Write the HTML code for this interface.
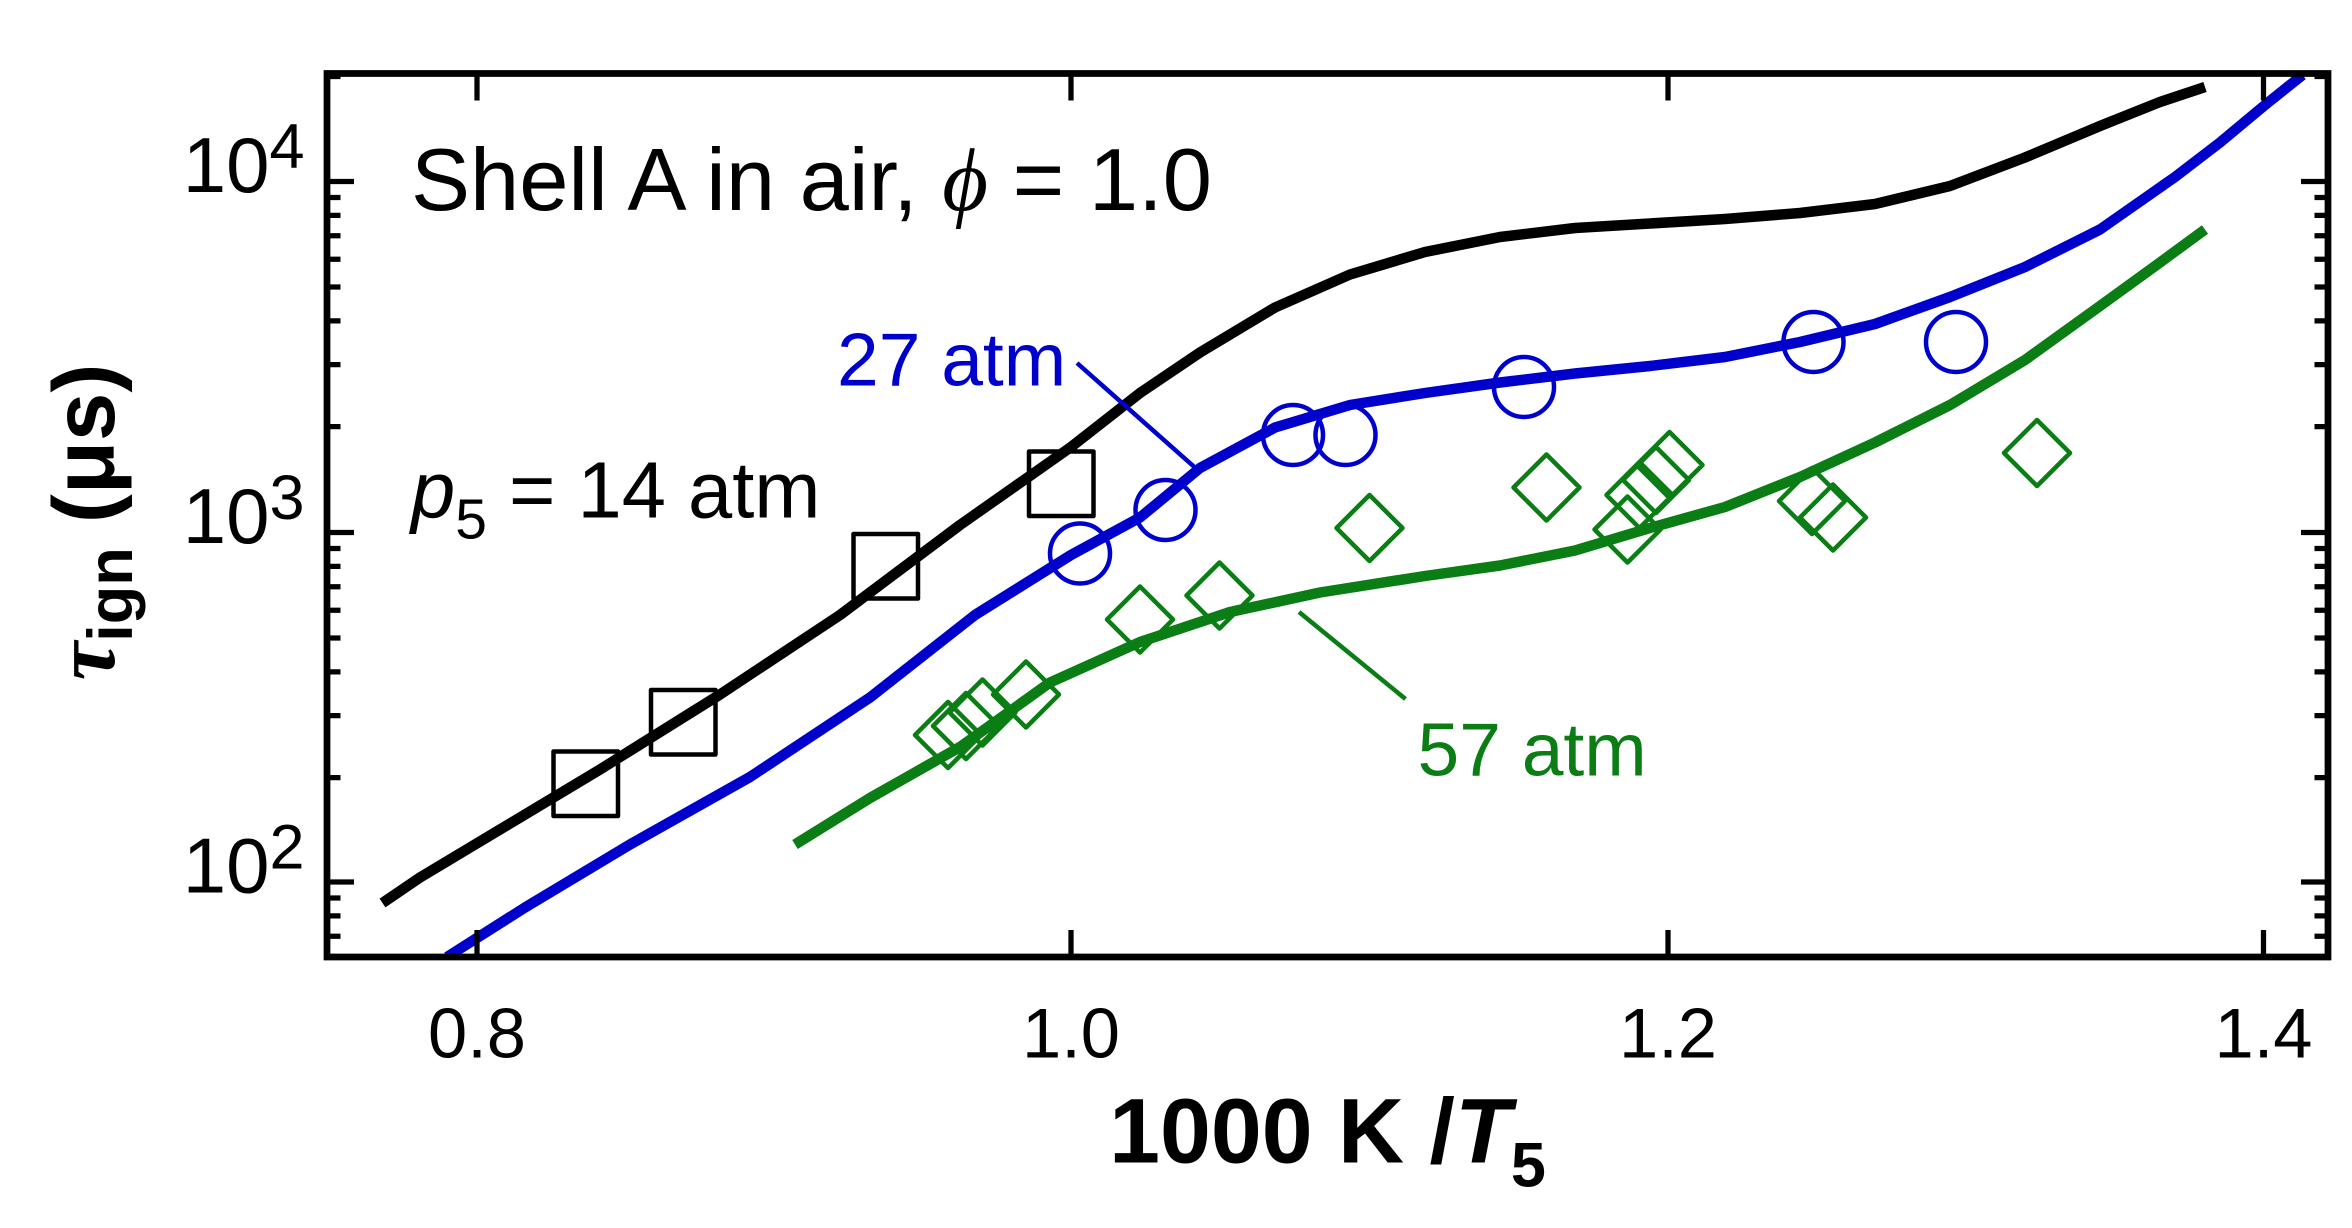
<!DOCTYPE html>
<html><head><style>html,body{margin:0;padding:0;background:#fff}svg{display:block}</style></head>
<body>
<svg width="2352" height="1228" viewBox="0 0 1568 818.667" xmlns="http://www.w3.org/2000/svg" font-family="Liberation Sans, Arial, sans-serif">
<rect width="1568" height="819" fill="#fff"/>
<g fill="none" stroke-linejoin="round" stroke-linecap="butt">
<polyline stroke="#000" stroke-width="7" points="255,602 280,585 330,555 400,513 480,463 560,410 640,350 714,298 760,262 800,235 850,205 900,183 950,168 1000,158 1050,152 1100,149 1150,146 1200,142 1250,136 1300,124 1350,105 1400,84 1440,68 1470,58"/>
<polyline stroke="#0000cc" stroke-width="7" points="298,638 350,605 420,563 500,518 580,465 650,410 714,370 760,345 800,312 850,285 900,270 950,262 1000,255 1050,249 1100,244 1150,238 1200,228 1250,216 1300,198 1350,178 1400,153 1450,118 1480,95 1510,70 1535,50"/>
<polyline stroke="#0a7d14" stroke-width="7" points="530,563 580,532 640,498 700,455 760,428 820,408 880,395 950,384 1000,377 1050,367 1100,352 1150,338 1200,318 1250,295 1300,270 1350,240 1400,204 1440,175 1470,153"/>
<g stroke="#000" stroke-width="3">
<rect x="369" y="501" width="43" height="43"/><rect x="434" y="460" width="43" height="43"/><rect x="569" y="356" width="43" height="43"/><rect x="686" y="301" width="43" height="43"/>
</g>
<g stroke="#0000cc" stroke-width="3">
<circle cx="720" cy="369" r="20"/><circle cx="777" cy="340" r="20"/><circle cx="862" cy="290" r="20"/><circle cx="897" cy="290" r="20"/><circle cx="1016" cy="258" r="20"/><circle cx="1209" cy="228" r="20"/><circle cx="1304" cy="228" r="20"/>
<line x1="718" y1="242" x2="797" y2="312"/>
</g>
<g stroke="#0a7d14" stroke-width="3">
<line x1="866" y1="408" x2="937" y2="466"/>
<path d="M632,468 l22,22 l-22,22 l-22,-22z M644,462 l22,22 l-22,22 l-22,-22z M655,453 l22,22 l-22,22 l-22,-22z M684,441 l22,22 l-22,22 l-22,-22z M760,391 l22,22 l-22,22 l-22,-22z M813,375 l22,22 l-22,22 l-22,-22z M913,330 l22,22 l-22,22 l-22,-22z M1031,303 l22,22 l-22,22 l-22,-22z M1085,331 l22,22 l-22,22 l-22,-22z M1093,308 l22,22 l-22,22 l-22,-22z M1104,298 l22,22 l-22,22 l-22,-22z M1113,288 l22,22 l-22,22 l-22,-22z M1208,312 l22,22 l-22,22 l-22,-22z M1222,323 l22,22 l-22,22 l-22,-22z M1358,280 l22,22 l-22,22 l-22,-22z"/>
</g>
</g>
<rect x="0" y="0" width="218" height="819" fill="#fff"/>
<rect x="218" y="638" width="1350" height="181" fill="#fff"/>
<rect x="218" y="0" width="1350" height="48" fill="#fff"/>
<rect x="1552" y="0" width="16" height="819" fill="#fff"/>
<rect x="218" y="49" width="1334" height="589" fill="none" stroke="#000" stroke-width="4.5"/>
<g stroke="#000" stroke-width="3.5">
<path d="M318,49v18M714,49v18M1112,49v18M1509,49v18M318,638v-18M714,638v-18M1112,638v-18M1509,638v-18"/>
<path d="M218,121h18M218,355h18M218,588h18M1552,121h-18M1552,355h-18M1552,588h-18"/>
<path d="M218,51h9M218,131.7h9M218,143.6h9M218,157.2h9M218,172.8h9M218,191.3h9M218,213.9h9M218,243.1h9M218,284.4h9M218,365.7h9M218,377.6h9M218,391.2h9M218,406.8h9M218,425.3h9M218,447.9h9M218,477.1h9M218,518.4h9M218,598.7h9M218,610.6h9M218,624.2h9
M1552,51h-9M1552,131.7h-9M1552,143.6h-9M1552,157.2h-9M1552,172.8h-9M1552,191.3h-9M1552,213.9h-9M1552,243.1h-9M1552,284.4h-9M1552,365.7h-9M1552,377.6h-9M1552,391.2h-9M1552,406.8h-9M1552,425.3h-9M1552,447.9h-9M1552,477.1h-9M1552,518.4h-9M1552,598.7h-9M1552,610.6h-9M1552,624.2h-9"/>
</g>
<g font-size="52" fill="#000" text-anchor="end">
<text x="203" y="128">10<tspan font-size="42" dy="-16">4</tspan></text>
<text x="203" y="362">10<tspan font-size="42" dy="-16">3</tspan></text>
<text x="203" y="595">10<tspan font-size="42" dy="-16">2</tspan></text>
</g>
<g font-size="47" fill="#000" text-anchor="middle">
<text x="318" y="705">0.8</text><text x="714" y="705">1.0</text><text x="1112" y="705">1.2</text><text x="1509" y="705">1.4</text>
</g>
<text x="885" y="775" font-size="61" font-weight="bold" text-anchor="middle">1000 K /<tspan font-style="italic">T</tspan><tspan font-size="42" dy="16">5</tspan></text>
<text transform="translate(76,348) rotate(-90)" font-size="58" font-weight="bold" text-anchor="middle"><tspan font-style="italic" font-family="Liberation Serif, serif">τ</tspan><tspan font-size="42" dy="12">ign</tspan><tspan dy="-12"> (μs)</tspan></text>
<text x="274" y="140" font-size="59">Shell A in air, <tspan font-style="italic" font-family="Liberation Serif, serif">ϕ</tspan> = 1.0</text>
<text x="274" y="345" font-size="53"><tspan font-style="italic">p</tspan><tspan font-size="38" dy="14">5</tspan><tspan dy="-14"> = 14 atm</tspan></text>
<text x="558" y="257" font-size="50" fill="#0000cc">27 atm</text>
<text x="945" y="517" font-size="50" fill="#0a7d14">57 atm</text>
</svg>
</body></html>
